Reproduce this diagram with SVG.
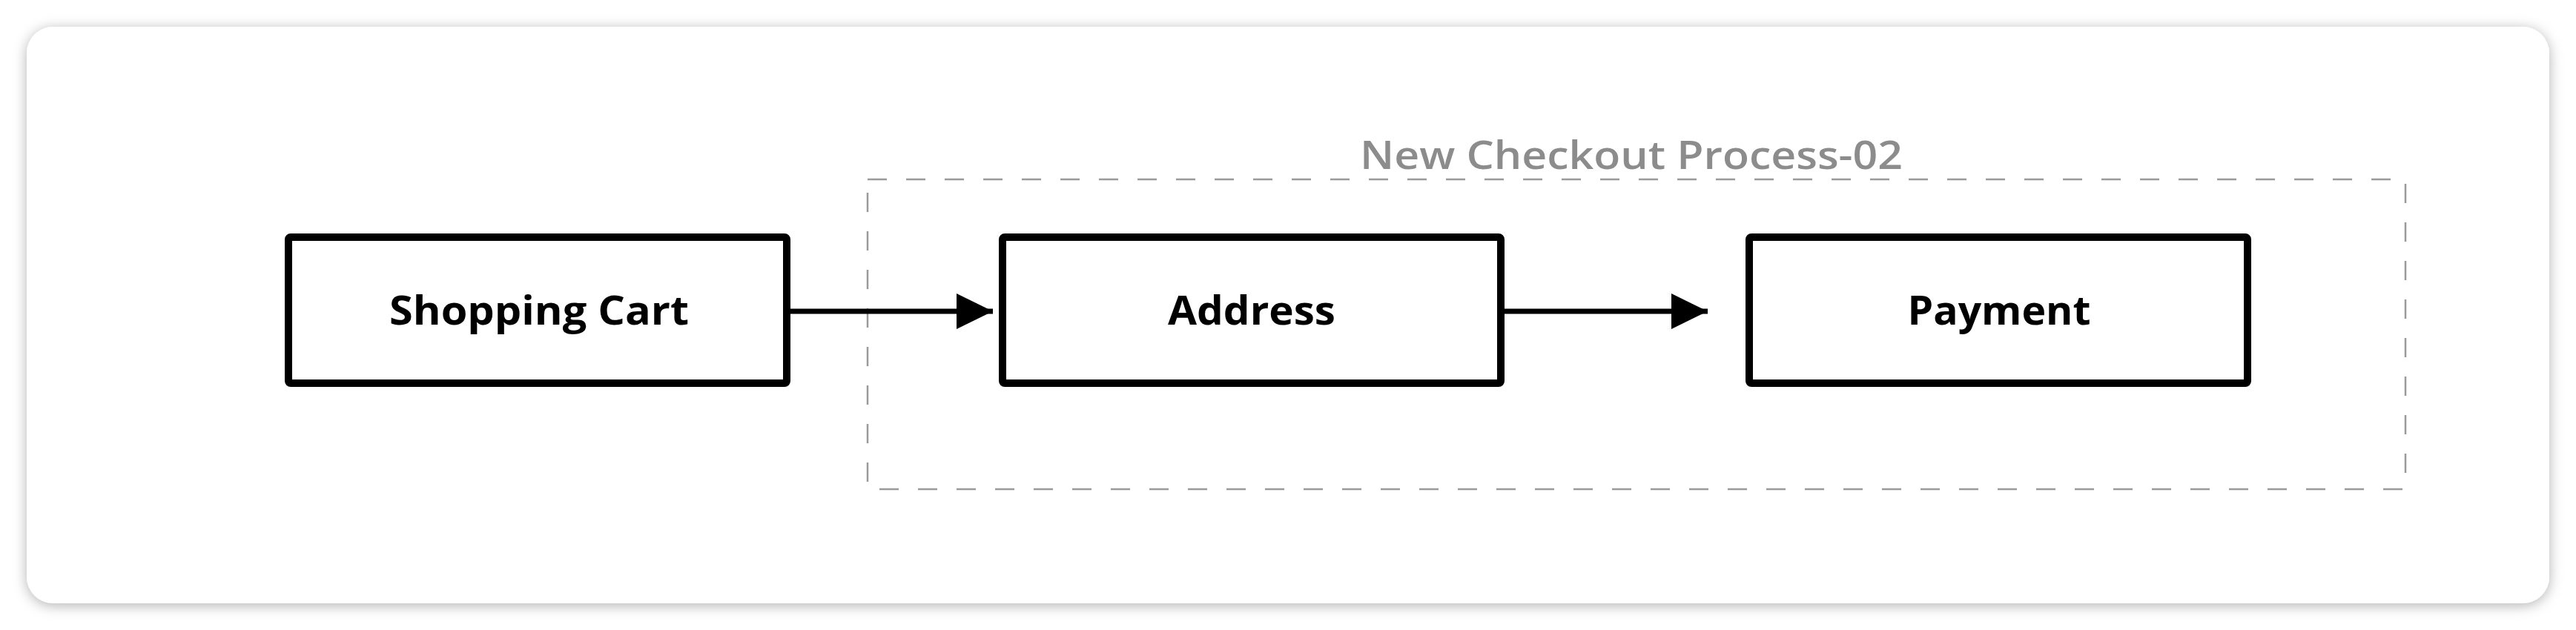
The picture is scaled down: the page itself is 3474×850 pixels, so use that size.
<svg xmlns="http://www.w3.org/2000/svg" width="3474" height="850" viewBox="0 0 3474 850">
  <defs>
    <filter id="shadow" x="-5%" y="-20%" width="110%" height="140%">
      <feDropShadow dx="0" dy="3" stdDeviation="9" flood-color="#000" flood-opacity="0.3"/>
    </filter>
    <marker id="arrow" markerUnits="userSpaceOnUse" markerWidth="50" markerHeight="50" refX="49" refY="24" orient="auto">
      <path d="M0,0 L49,24 L0,48 Z" fill="#000"/>
    </marker>
    <style>
      .node rect { fill: #fff; stroke: #000; stroke-width: 10; }
      .node text { font-family: "Open Sans", "Liberation Sans", sans-serif; font-weight: 700; font-size: 53px; fill: #000; text-anchor: middle; }
      .edge { stroke: #000; stroke-width: 7; fill: none; }
      .group-frame { fill: none; stroke: #9a9a9a; stroke-width: 2.5; stroke-dasharray: 26 26; }
      .group-title { font-family: "Open Sans", "Liberation Sans", sans-serif; font-weight: 600; font-size: 53px; fill: #8c8c8c; text-anchor: middle; }
    </style>
  </defs>
  <rect width="3474" height="850" fill="#fff"/>
  <rect id="card" x="36" y="36" width="3402" height="778" rx="36" ry="36" fill="#fff" filter="url(#shadow)"/>

  <g id="group-new-checkout">
    <rect class="group-frame" x="1170" y="242" width="2074" height="418"/>
    <text class="group-title" x="2200" y="228" textLength="732" lengthAdjust="spacingAndGlyphs">New Checkout Process-02</text>
  </g>

  <g id="connectors">
    <line class="edge" x1="1066" y1="420" x2="1339" y2="420" marker-end="url(#arrow)"/>
    <line class="edge" x1="2029" y1="420" x2="2303" y2="420" marker-end="url(#arrow)"/>
  </g>

  <g id="node-shopping-cart" class="node">
    <rect x="389" y="320" width="672" height="197" rx="3"/>
    <text x="727" y="438" textLength="404" lengthAdjust="spacingAndGlyphs">Shopping Cart</text>
  </g>
  <g id="node-address" class="node">
    <rect x="1352" y="320" width="672" height="197" rx="3"/>
    <text x="1688" y="438" textLength="226" lengthAdjust="spacingAndGlyphs">Address</text>
  </g>
  <g id="node-payment" class="node">
    <rect x="2359" y="320" width="672" height="197" rx="3"/>
    <text x="2696" y="438" textLength="247" lengthAdjust="spacingAndGlyphs">Payment</text>
  </g>
</svg>
